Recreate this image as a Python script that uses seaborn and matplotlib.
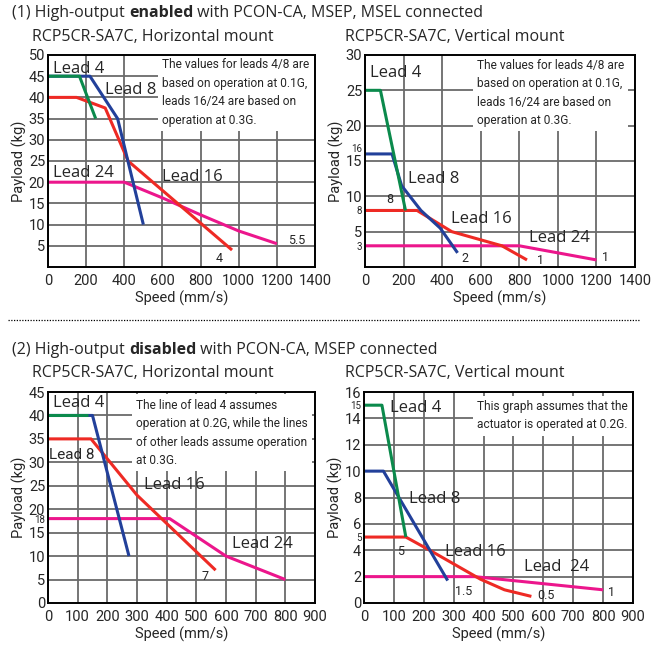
import matplotlib
matplotlib.use('Agg')
import matplotlib.pyplot as plt
from matplotlib.lines import Line2D
import seaborn as sns

# (1) high-output enabled, horizontal mount
H1_LEAD4_X = [0, 165, 250]
H1_LEAD4_Y = [45, 45, 35]
H1_LEAD8_X = [0, 220, 365, 500]
H1_LEAD8_Y = [45, 45, 35, 10]
H1_LEAD16_X = [0, 150, 300, 420, 965]
H1_LEAD16_Y = [40, 40, 37.5, 25, 4]
H1_LEAD24_X = [0, 400, 600, 800, 1000, 1200]
H1_LEAD24_Y = [20, 20, 16.3, 12.3, 8.5, 5.5]

# (1) high-output enabled, vertical mount
V1_LEAD4_X = [0, 80, 210]
V1_LEAD4_Y = [25, 25, 8]
V1_LEAD8_X = [0, 140, 190, 290, 390, 480]
V1_LEAD8_Y = [16, 16, 11.5, 8, 5.5, 2]
V1_LEAD16_X = [0, 270, 450, 710, 840]
V1_LEAD16_Y = [8, 8, 5, 3, 1]
V1_LEAD24_X = [0, 800, 1200]
V1_LEAD24_Y = [3, 3, 1]

# (2) high-output disabled, horizontal mount
H2_LEAD4_X = [0, 135]
H2_LEAD4_Y = [40, 40]
H2_LEAD8_X = [0, 150, 273]
H2_LEAD8_Y = [40, 40, 10]
H2_LEAD16_X = [0, 145, 300, 565]
H2_LEAD16_Y = [35, 35, 23, 7]
H2_LEAD24_X = [0, 410, 600, 800]
H2_LEAD24_Y = [18, 18, 10, 5]

# (2) high-output disabled, vertical mount
V2_LEAD4_X = [0, 60, 140]
V2_LEAD4_Y = [15, 15, 5]
V2_LEAD8_X = [0, 65, 280]
V2_LEAD8_Y = [10, 10, 1.7]
V2_LEAD16_X = [0, 140, 220, 390, 470, 560]
V2_LEAD16_Y = [5, 5, 4, 1.8, 1.0, 0.5]
V2_LEAD24_X = [0, 370, 800]
V2_LEAD24_Y = [2, 2, 1]

GREEN = '#0b8a4c'
BLUE = '#22409a'
RED = '#ee2a24'
MAGENTA = '#ec168c'

NARROW = ['Roboto', 'DejaVu Sans']
WIDE = ['Open Sans', 'DejaVu Sans']

sns.set_style('white')
plt.rcParams['font.family'] = NARROW


def draw_lines(ax, series):
    for xs, ys, color in series:
        sns.lineplot(x=xs, y=ys, color=color, lw=2.2, ax=ax,
                     estimator=None, sort=False, solid_capstyle='butt')


def style_axes(ax, xmax, xstep, ymax, ygrid, yticks, small_yticks,
               show_zero=True, raised=()):
    ax.set_xlim(0, xmax)
    ax.set_ylim(0, ymax)
    ax.set_xticks(range(0, xmax + 1, xstep))
    ax.set_xticklabels([str(v) for v in range(0, xmax + 1, xstep)],
                       fontsize=10.5)
    ax.yaxis.remove_overlapping_locs = False
    ax.set_yticks(ygrid, minor=True)
    ax.set_yticks(yticks)
    labels = [str(v) if (v != 0 or show_zero) else '' for v in yticks]
    ax.set_yticklabels(labels, fontsize=10.5)
    for lab, v in zip(ax.get_yticklabels(), yticks):
        if v in small_yticks:
            lab.set_fontsize(7)
        if v in raised:
            lab.set_verticalalignment('bottom')
    ax.xaxis.grid(True, which='major', color='#6a6a6a', lw=1.3)
    ax.yaxis.grid(True, which='minor', color='#6a6a6a', lw=1.3)
    ax.yaxis.grid(False, which='major')
    ax.set_axisbelow(True)
    ax.tick_params(which='both', length=0)
    ax.tick_params(axis='x', pad=5)
    ax.tick_params(axis='y', pad=2)
    for sp in ax.spines.values():
        sp.set_color('black')
        sp.set_linewidth(1.4)
        sp.set_zorder(5)
    ax.set_xlabel('Speed (mm/s)', fontsize=10.5, labelpad=2)
    ax.set_ylabel('Payload (kg)', fontsize=10.5, labelpad=1)


def note(ax, x, y, s):
    ax.text(x, y, s, fontsize=8.6, va='top', ha='left', linespacing=1.55,
            zorder=3, bbox=dict(fc='white', ec='none', pad=3))


def lead(ax, x, y, s, size=12, family=WIDE):
    ax.text(x, y, s, fontsize=size, family=family, va='center', ha='left',
            zorder=6)


def small(ax, x, y, s):
    ax.text(x, y, s, fontsize=9, va='center', ha='left', zorder=6)


def rich_text(fig, x, y, parts, renderer, size=11.5):
    for s, weight in parts:
        t = fig.text(x, y, s, fontsize=size, weight=weight, family=WIDE,
                     va='center', ha='left')
        bb = t.get_window_extent(renderer)
        x += bb.width / fig.bbox.width


fig = plt.figure(figsize=(6.59, 6.45), dpi=100)
renderer = fig.canvas.get_renderer()

W, H = 659.0, 645.0


def axes_px(left, right, top, bottom):
    return fig.add_axes([left / W, 1 - bottom / H, (right - left) / W,
                         (bottom - top) / H])


ax1 = axes_px(48, 315, 55, 267)
ax2 = axes_px(365, 635, 55, 267)
ax3 = axes_px(48, 315, 392, 603)
ax4 = axes_px(364, 633, 392, 603)

# panel 1
draw_lines(ax1, [(H1_LEAD24_X, H1_LEAD24_Y, MAGENTA),
                 (H1_LEAD16_X, H1_LEAD16_Y, RED),
                 (H1_LEAD8_X, H1_LEAD8_Y, BLUE),
                 (H1_LEAD4_X, H1_LEAD4_Y, GREEN)])
style_axes(ax1, 1400, 200, 50, list(range(5, 50, 5)),
           list(range(5, 51, 5)), [], show_zero=False)
note(ax1, 600, 49.2, 'The values for leads 4/8 are\nbased on operation at 0.1G,\n'
     'leads 16/24 are based on\noperation at 0.3G.')
lead(ax1, 25, 46.8, 'Lead 4')
lead(ax1, 298, 41.8, 'Lead 8')
lead(ax1, 25, 22.2, 'Lead 24')
lead(ax1, 600, 21.3, 'Lead 16')
small(ax1, 1260, 6.3, '5.5')
small(ax1, 880, 2.0, '4')

# panel 2
draw_lines(ax2, [(V1_LEAD24_X, V1_LEAD24_Y, MAGENTA),
                 (V1_LEAD16_X, V1_LEAD16_Y, RED),
                 (V1_LEAD8_X, V1_LEAD8_Y, BLUE),
                 (V1_LEAD4_X, V1_LEAD4_Y, GREEN)])
style_axes(ax2, 1400, 200, 30, list(range(5, 30, 5)),
           [3, 5, 8, 10, 15, 16, 20, 25, 30], [3, 8, 16], show_zero=False,
           raised=(16,))
note(ax2, 580, 29.5, 'The values for leads 4/8 are\nbased on operation at 0.1G,\n'
     'leads 16/24 are based on\noperation at 0.3G.')
lead(ax2, 25, 27.4, 'Lead 4')
lead(ax2, 225, 12.4, 'Lead 8')
lead(ax2, 445, 6.8, 'Lead 16')
lead(ax2, 850, 4.05, 'Lead 24')
small(ax2, 110, 9.6, '8')
small(ax2, 500, 1.2, '2')
small(ax2, 890, 0.9, '1')
small(ax2, 1230, 1.3, '1')

# panel 3
draw_lines(ax3, [(H2_LEAD24_X, H2_LEAD24_Y, MAGENTA),
                 (H2_LEAD16_X, H2_LEAD16_Y, RED),
                 (H2_LEAD8_X, H2_LEAD8_Y, BLUE),
                 (H2_LEAD4_X, H2_LEAD4_Y, GREEN)])
style_axes(ax3, 900, 100, 45, list(range(5, 45, 5)),
           list(range(0, 46, 5)) + [18], [18])
note(ax3, 298, 43.6, 'The line of lead 4 assumes\noperation at 0.2G, while the lines\n'
     'of other leads assume operation\nat 0.3G.')
lead(ax3, 18, 42.6, 'Lead 4')
lead(ax3, 5, 31.6, 'Lead 8', size=11, family=NARROW)
lead(ax3, 322, 25.1, 'Lead 16')
lead(ax3, 620, 12.6, 'Lead 24')
small(ax3, 518, 5.6, '7')

# panel 4
draw_lines(ax4, [(V2_LEAD24_X, V2_LEAD24_Y, MAGENTA),
                 (V2_LEAD16_X, V2_LEAD16_Y, RED),
                 (V2_LEAD8_X, V2_LEAD8_Y, BLUE),
                 (V2_LEAD4_X, V2_LEAD4_Y, GREEN)])
style_axes(ax4, 900, 100, 16, list(range(2, 16, 2)),
           list(range(0, 17, 2)) + [5, 15], [5, 15])
note(ax4, 378, 15.4, 'This graph assumes that the\nactuator is operated at 0.2G.')
lead(ax4, 88, 14.8, 'Lead 4')
lead(ax4, 150, 7.9, 'Lead 8')
lead(ax4, 270, 3.9, 'Lead 16')
lead(ax4, 535, 2.7, 'Lead  24')
small(ax4, 112, 3.9, '5')
small(ax4, 305, 0.9, '1.5')
small(ax4, 580, 0.55, '0.5')
small(ax4, 815, 0.8, '1')

# headers
rich_text(fig, 12 / W, 1 - 13 / H,
          [('(1) High-output ', 'normal'), ('enabled', 'bold'),
           (' with PCON-CA, MSEP, MSEL connected', 'normal')], renderer)
rich_text(fig, 12 / W, 1 - 350 / H,
          [('(2) High-output ', 'normal'), ('disabled', 'bold'),
           (' with PCON-CA, MSEP connected', 'normal')], renderer)
for x, y, s in [(32, 37, 'RCP5CR-SA7C, Horizontal mount'),
                (345, 37, 'RCP5CR-SA7C, Vertical mount'),
                (32, 373, 'RCP5CR-SA7C, Horizontal mount'),
                (345, 373, 'RCP5CR-SA7C, Vertical mount')]:
    fig.text(x / W, 1 - y / H, s, fontsize=11.5, family=WIDE,
             va='center', ha='left')

fig.add_artist(Line2D([8 / W, 640 / W], [1 - 320 / H, 1 - 320 / H],
                      transform=fig.transFigure, color='black', lw=0.9,
                      ls=(0, (1, 1.2))))

fig.savefig('out.png', dpi=100)
